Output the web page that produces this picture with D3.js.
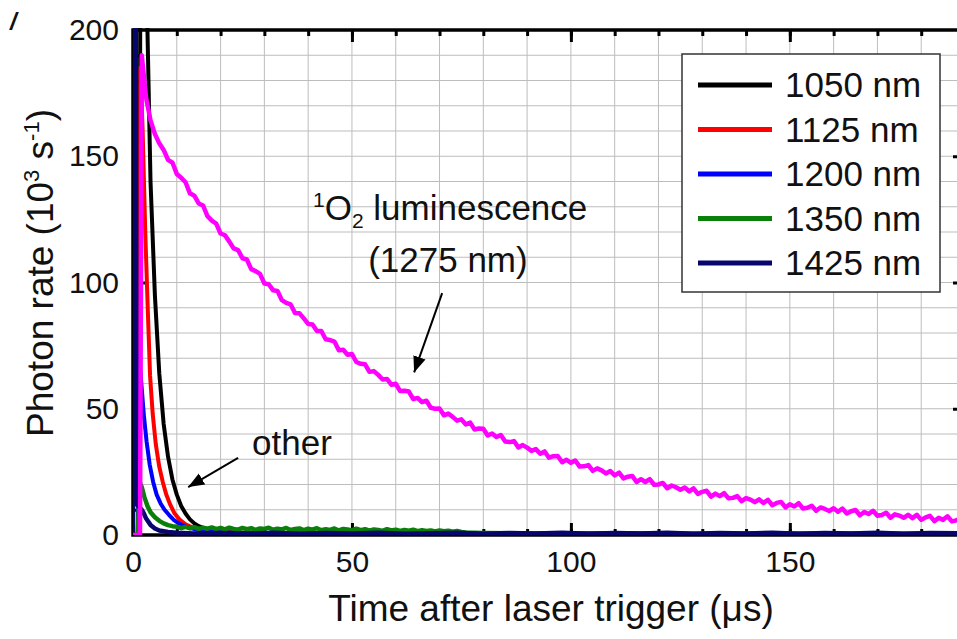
<!DOCTYPE html>
<html>
<head>
<meta charset="utf-8">
<script src="https://cdn.jsdelivr.net/npm/d3@7"></script>
<style>
  body { margin: 0; background: #fff; }
  svg { display: block; font-family: "Liberation Sans", Arial, sans-serif; }
</style>
</head>
<body>
<svg id="chart" width="957" height="639"></svg>
<script>
// ---- Data: time (µs) vs photon rate (10^3 s^-1) ----
const legendLabels = ["1050 nm", "1125 nm", "1200 nm", "1350 nm", "1425 nm"];
const legendColors = ["#000000", "#ff0000", "#0000ff", "#0a800a", "#06066e"];

const xTickLabels = [0, 50, 100, 150];
const yTickLabels = [0, 50, 100, 150, 200];

const trace1050 = [[0,0],[1.4,0],[1.8,330],[2.5,265],[3.3,200],[4,140],[5,95],[6,64],[7,44],[8,31],[9,22],[10,16],
  [11,11.5],[12,8.5],[13,6.2],[14,4.6],[15,3.5],[16,2.8],[18,1.9],[20,1.4],[24,1.0],[30,0.8],[40,0.6],[60,0.5],[100,0.4],[190,0.4]];

const trace1125 = [[0,0],[1.3,0],[1.7,185],[2.2,160],[2.8,120],[3.4,88],[3.9,63],[4.5,48],[5.2,36],[6,27],[6.8,21],
  [7.6,16],[8.5,12],[9.5,8.5],[10.7,6],[12,4.2],[13.5,3],[15,2.2],[17,1.6],[20,1.2],[25,0.9],[30,0.7],[60,0.5],[190,0.4]];

const trace1200 = [[0,0],[1.1,0],[1.4,71],[1.9,60],[2.5,47],[3.1,37],[3.8,28],[4.6,21],[5.4,16],[6.3,12.5],[7.2,10],
  [8.2,8],[9.3,6],[10.5,4.5],[12,3.3],[14,2.3],[16,1.7],[19,1.2],[23,0.9],[30,0.6],[60,0.5],[190,0.4]];

const trace1350 = [[0,0],[1.1,0],[1.5,21],[2,19],[2.6,15],[3.3,11.5],[4,9],[5,7],[6,5.6],[7,4.6],[8,3.9],[9,3.5],
  [10,3.3],[11,2.7],[12,3.2],[13,2.6],[14,3.1],[15,2.4],[16,2.9],[17,2.5],[18,3.0],[19,2.3],[20,2.8],[21,2.2],
  [22,2.9],[23,2.4],[24,2.1],[25,2.8],[26,2.3],[27,2.7],[28,2.0],[29,2.6],[30,2.4],[31,2.9],[32,2.1],[33,2.5],
  [34,2.2],[35,2.8],[36,2.0],[37,2.4],[38,2.6],[39,1.9],[40,2.5],[41,2.1],[42,2.7],[43,1.9],[44,2.3],[45,2.0],
  [46,2.6],[47,1.8],[48,2.4],[49,2.2],[50,1.8],[51,2.5],[52,1.9],[53,2.3],[54,1.7],[55,2.2],[56,2.0],[57,1.6],
  [58,2.3],[59,1.8],[60,2.1],[61,1.6],[62,2.0],[63,1.7],[64,2.1],[65,1.5],[66,1.9],[67,1.6],[68,1.8],[69,1.4],
  [70,1.8],[71,1.5],[72,1.7],[73,1.3],[74,1.6],[75,1.2],[76,1.0],[80,0.8],[90,0.6],[110,0.7],[130,0.5],
  [160,0.6],[190,0.5]];

const trace1425 = [[0,0],[0.3,420],[0.9,12],[1.5,11],[2,10],[2.5,8.5],[3,6.5],[4,4],[5,2.6],[6,1.8],[8,1.2],[10,0.9],
  [14,0.6],[20,0.8],[26,0.5],[32,0.9],[38,0.5],[44,0.8],[50,0.6],[56,0.9],[62,0.5],[68,0.7],[74,0.9],[80,0.5],
  [86,0.8],[92,0.6],[98,0.9],[104,0.5],[110,0.8],[116,0.6],[122,0.9],[128,0.5],[134,0.8],[140,0.6],[146,0.9],
  [152,0.5],[158,0.8],[164,0.6],[170,0.9],[176,0.5],[182,0.8],[190,0.6]];

// singlet oxygen luminescence at 1275 nm, sampled every 1 µs from 2 µs to 190 µs
const o2Lead = [[0,0],[1.6,0]];
const o2Times = d3.range(2, 191, 1);
const o2Values = [
  190.0,173.0,164.2,158.8,155.1,
  152.5,148.6,147.5,143.0,141.5,139.7,135.3,134.4,131.3,130.5,126.3,124.5,123.3,119.4,118.7,116.2,113.5,
  112.8,109.6,109.1,105.3,104.5,103.4,99.6,99.3,96.9,96.6,93.0,91.9,91.3,87.9,87.8,85.8,83.6,
  83.4,80.8,80.8,77.5,77.2,76.6,73.2,73.4,71.4,71.7,68.5,67.8,67.6,64.6,64.9,63.4,61.6,
  61.8,59.5,59.9,57.0,57.1,56.8,53.8,54.3,52.6,53.2,50.4,50.0,50.1,47.4,48.1,46.8,45.3,
  45.8,43.8,44.5,41.8,42.2,42.1,39.4,40.2,38.8,39.6,37.0,36.8,37.2,34.7,35.6,34.6,33.3,
  34.0,32.2,33.1,30.6,31.2,31.3,28.8,29.8,28.6,29.5,27.1,27.2,27.7,25.4,26.4,25.6,24.4,
  25.3,23.6,24.7,22.4,23.1,23.4,21.0,22.1,21.0,22.1,19.9,20.0,20.6,18.5,19.6,18.9,17.9,
  18.8,17.3,18.5,16.3,17.1,17.5,15.2,16.4,15.4,16.6,14.5,14.7,15.4,13.4,14.6,14.0,13.0,
  14.1,12.7,13.9,11.8,12.7,13.1,10.9,12.2,11.3,12.6,10.5,10.8,11.6,9.6,10.9,10.3,9.5,
  10.6,9.2,10.5,8.5,9.4,9.9,7.8,9.1,8.3,9.6,7.6,7.9,8.8,6.8,8.2,7.7,6.8,
  8.0,6.7,8.0,6.0,7.0,7.6,5.5,6.8,6.0,7.4,5.4,5.8,6.7,4.8];

// ---- Layout ----
const svg = d3.select("#chart");
const plot = { left: 133, top: 30, right: 965, bottom: 535 };

const x = d3.scaleLinear().domain([0, 190]).range([plot.left, plot.right]);
const y = d3.scaleLinear().domain([0, 200]).range([plot.bottom, plot.top]);

// grid every 10 units
const grid = svg.append("g").attr("stroke", "#bdbdbd").attr("stroke-width", 1);
grid.selectAll("line.v").data(d3.range(10, 190, 10)).join("line")
  .attr("x1", d => x(d)).attr("x2", d => x(d)).attr("y1", plot.top).attr("y2", plot.bottom);
grid.selectAll("line.h").data(d3.range(10, 200, 10)).join("line")
  .attr("x1", plot.left).attr("x2", plot.right).attr("y1", d => y(d)).attr("y2", d => y(d));

// inward tick marks on all four sides
function tickAxes(axisFn, scale, values, size, transform) {
  svg.append("g").attr("transform", transform)
    .call(axisFn(scale).tickValues(values).tickSize(size).tickFormat(""))
    .call(g => g.select(".domain").remove())
    .call(g => g.selectAll("line").attr("stroke", "#000").attr("stroke-width", 3));
}
const xMinor = d3.range(10, 190, 10), xMajor = [50, 100, 150];
const yMinor = d3.range(10, 200, 10), yMajor = [50, 100, 150];
tickAxes(d3.axisBottom, x, xMinor, -6, `translate(0,${plot.bottom})`);
tickAxes(d3.axisBottom, x, xMajor, -12, `translate(0,${plot.bottom})`);
tickAxes(d3.axisTop, x, xMinor, -6, `translate(0,${plot.top})`);
tickAxes(d3.axisTop, x, xMajor, -12, `translate(0,${plot.top})`);
tickAxes(d3.axisLeft, y, yMinor, -6, `translate(${plot.left},0)`);
tickAxes(d3.axisLeft, y, yMajor, -12, `translate(${plot.left},0)`);
tickAxes(d3.axisRight, y, yMinor, -6, `translate(${plot.right},0)`);
tickAxes(d3.axisRight, y, yMajor, -12, `translate(${plot.right},0)`);

// frame
svg.append("rect")
  .attr("x", plot.left).attr("y", plot.top)
  .attr("width", plot.right - plot.left).attr("height", plot.bottom - plot.top)
  .attr("fill", "none").attr("stroke", "#000").attr("stroke-width", 3.5);

// tick labels
svg.append("g").attr("transform", `translate(0,${plot.bottom})`)
  .call(d3.axisBottom(x).tickValues(xTickLabels).tickSize(0).tickPadding(16).tickFormat(d3.format("d")))
  .call(g => g.select(".domain").remove())
  .call(g => g.selectAll("text").attr("font-size", 30).attr("fill", "#111")
    .attr("font-family", '"Liberation Sans", Arial, sans-serif'));
svg.append("g").attr("transform", `translate(${plot.left},0)`)
  .call(d3.axisLeft(y).tickValues(yTickLabels).tickSize(0).tickPadding(14).tickFormat(d3.format("d")))
  .call(g => g.select(".domain").remove())
  .call(g => g.selectAll("text").attr("font-size", 30).attr("fill", "#111")
    .attr("font-family", '"Liberation Sans", Arial, sans-serif'));

// axis titles
svg.append("text")
  .attr("x", (plot.left + 957) / 2 + 6).attr("y", 621)
  .attr("text-anchor", "middle").attr("font-size", 37).attr("fill", "#111")
  .text("Time after laser trigger (\u03bcs)");

const yTitle = svg.append("text")
  .attr("transform", "translate(53,273) rotate(-90)")
  .attr("text-anchor", "middle").attr("font-size", 37).attr("fill", "#111");
yTitle.append("tspan").text("Photon rate (10");
yTitle.append("tspan").attr("font-size", 22).attr("dy", -14).text("3");
yTitle.append("tspan").attr("dy", 14).text(" s");
yTitle.append("tspan").attr("font-size", 22).attr("dy", -14).text("-1");
yTitle.append("tspan").attr("dy", 14).text(")");

// clipped data traces
svg.append("clipPath").attr("id", "plotClip")
  .append("rect").attr("x", plot.left).attr("y", plot.top - 2)
  .attr("width", plot.right - plot.left).attr("height", plot.bottom - plot.top + 2);

const line = d3.line().x(d => x(d[0])).y(d => y(d[1]));
const traces = svg.append("g").attr("clip-path", "url(#plotClip)")
  .attr("fill", "none").attr("stroke-linejoin", "round");

const o2Trace = o2Lead.concat(o2Times.map((t, i) => [t, o2Values[i]]));
const drawOrder = [
  { data: trace1050, color: legendColors[0], width: 4 },
  { data: trace1125, color: legendColors[1], width: 4 },
  { data: trace1200, color: legendColors[2], width: 4 },
  { data: trace1350, color: legendColors[3], width: 4.5 },
  { data: trace1425, color: legendColors[4], width: 4.5 },
  { data: o2Trace, color: "#ff00ff", width: 4.5 }
];
traces.selectAll("path").data(drawOrder).join("path")
  .attr("d", d => line(d.data))
  .attr("stroke", d => d.color)
  .attr("stroke-width", d => d.width);

// legend
const legend = svg.append("g");
legend.append("rect").attr("x", 682).attr("y", 54).attr("width", 258).attr("height", 238)
  .attr("fill", "#fff").attr("stroke", "#333").attr("stroke-width", 1.5);
const row = d3.scaleLinear().domain([0, 4]).range([85, 263]);
const items = legend.selectAll("g.item").data(legendLabels).join("g")
  .attr("transform", (d, i) => `translate(0,${row(i)})`);
items.append("line").attr("x1", 698).attr("x2", 772)
  .attr("stroke", (d, i) => legendColors[i]).attr("stroke-width", 5);
items.append("text").attr("x", 785).attr("y", 12)
  .attr("font-size", 35).attr("fill", "#111").text(d => d);

// annotations
const defs = svg.append("defs");
defs.append("marker").attr("id", "arrowHead")
  .attr("viewBox", "0 0 10 10").attr("refX", 10).attr("refY", 5)
  .attr("markerWidth", 8).attr("markerHeight", 8).attr("markerUnits", "strokeWidth")
  .attr("orient", "auto")
  .append("path").attr("d", "M0,1 L10,5 L0,9 Z").attr("fill", "#000");

const arrows = [
  { from: [70.6, 95.8], to: [64.2, 64.4] },
  { from: [24.0, 30.5], to: [12.6, 19.0] }
];
svg.append("g").selectAll("line").data(arrows).join("line")
  .attr("x1", d => x(d.from[0])).attr("y1", d => y(d.from[1]))
  .attr("x2", d => x(d.to[0])).attr("y2", d => y(d.to[1]))
  .attr("stroke", "#000").attr("stroke-width", 2)
  .attr("marker-end", "url(#arrowHead)");

const o2Label = svg.append("text")
  .attr("x", x(41.1)).attr("y", y(124.8))
  .attr("font-size", 35).attr("fill", "#111");
o2Label.append("tspan").attr("font-size", 21).attr("dy", -13).text("1");
o2Label.append("tspan").attr("dy", 13).text("O");
o2Label.append("tspan").attr("font-size", 21).attr("dy", 8).text("2");
o2Label.append("tspan").attr("dy", -8).text(" luminescence");

svg.append("text").attr("x", x(53.7)).attr("y", y(104.2))
  .attr("font-size", 35).attr("fill", "#111").text("(1275 nm)");

svg.append("text").attr("x", x(27.2)).attr("y", y(31.7))
  .attr("font-size", 35).attr("fill", "#111").text("other");

// fragment of a neighbouring panel letter at the top-left edge
svg.append("text").attr("x", 10).attr("y", 30)
  .attr("font-size", 24).attr("font-weight", "bold").attr("font-style", "italic")
  .attr("fill", "#111").text("/");
</script>
</body>
</html>
